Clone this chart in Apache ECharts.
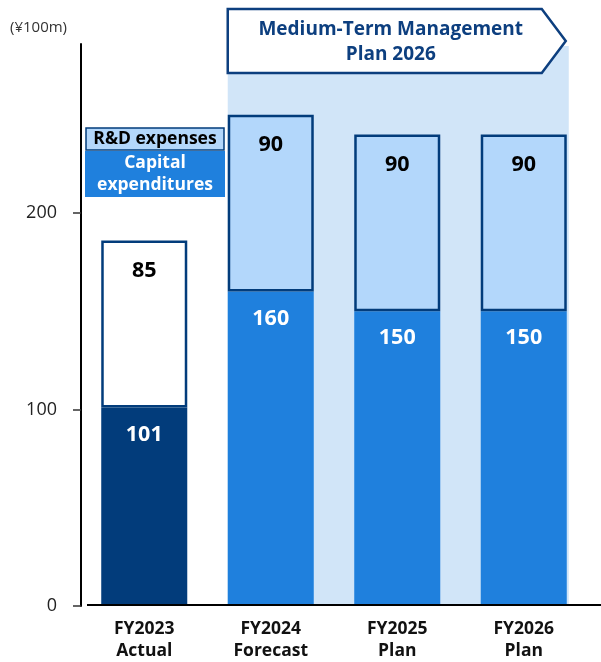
<!DOCTYPE html>
<html>
<head>
<meta charset="utf-8">
<script src="https://cdn.jsdelivr.net/npm/echarts@6/dist/echarts.min.js"></script>
<style>
  html, body { margin: 0; padding: 0; background: #fff; }
  #chart { width: 601px; height: 662px; }
</style>
</head>
<body>
<div id="chart"></div>
<script>
// Capex and R&D plan, unit: ¥100m
const categories = ['FY2023\nActual', 'FY2024\nForecast', 'FY2025\nPlan', 'FY2026\nPlan'];
const capitalExpenditures = [101, 160, 150, 150];
const rdExpenses = [85, 90, 90, 90];
const yTicks = [0, 100, 200];

const FONT = '"Open Sans", "Noto Sans", sans-serif';
const NAVY = '#023c7b';
const BLUE = '#1f80dd';
const LIGHT = '#b3d7fb';
const BAND = '#d1e5f8';

const chart = echarts.init(document.getElementById('chart'), null, { renderer: 'canvas' });

const barWidthRatio = 0.68;

const option = {
  animation: false,
  textStyle: { fontFamily: FONT },
  grid: { left: 81, right: 14, top: 44, bottom: 53, containLabel: false },
  xAxis: {
    type: 'category',
    data: categories,
    axisLine: { show: false },
    axisTick: { show: false },
    axisLabel: {
      color: '#111', fontSize: 17.5, fontWeight: 'bold', fontFamily: FONT,
      lineHeight: 22, margin: 12, interval: 0
    }
  },
  yAxis: {
    type: 'value',
    min: 0, max: 286, interval: 100,
    splitLine: { show: false },
    axisLine: { show: true, lineStyle: { color: '#000', width: 2 } },
    axisTick: { show: true, length: 8, customValues: yTicks, lineStyle: { color: '#333', width: 1.5 } },
    axisLabel: { customValues: yTicks, color: '#222', fontSize: 18, margin: 24, fontFamily: FONT }
  },
  series: [
    {
      name: 'Capital expenditures',
      type: 'bar',
      stack: 'total',
      barWidth: (barWidthRatio * 100) + '%',
      z: 3,
      data: capitalExpenditures.map((v, i) => ({
        value: v,
        itemStyle: { color: i === 0 ? NAVY : BLUE }
      })),
      label: {
        show: true, position: 'insideTop', distance: 16,
        color: '#fff', fontSize: 21.5, fontWeight: 'bold', fontFamily: FONT
      }
    },
    {
      name: 'R&D expenses',
      type: 'bar',
      stack: 'total',
      barWidth: (barWidthRatio * 100) + '%',
      z: 3,
      data: rdExpenses.map((v, i) => ({
        value: v,
        itemStyle: { color: i === 0 ? '#fff' : LIGHT, borderColor: NAVY, borderWidth: 2.5 }
      })),
      label: {
        show: true, position: 'insideTop', distance: 19,
        color: '#000', fontSize: 21.5, fontWeight: 'bold', fontFamily: FONT
      }
    }
  ]
};

chart.setOption(option);

// Plan-period band, banner, legend and baseline placed from the axis scales
const bandW = (601 - 81 - 14) / categories.length;
const half = bandW * barWidthRatio / 2;
const xStart = chart.convertToPixel({ xAxisIndex: 0 }, categories[1]) - half;
const xEnd = chart.convertToPixel({ xAxisIndex: 0 }, categories[3]) + half + 2;
const yZero = chart.convertToPixel({ yAxisIndex: 0 }, 0);
const yTop = chart.convertToPixel({ yAxisIndex: 0 }, 285);

const bannerTop = 9, bannerBottom = 73, tipX = xEnd - 3, bodyRight = tipX - 24;
const bannerMid = (bannerTop + bannerBottom) / 2;

chart.setOption({
  graphic: [
    {
      type: 'rect', z: -10, silent: true,
      shape: { x: xStart, y: yTop, width: xEnd - xStart, height: yZero - yTop },
      style: { fill: BAND }
    },
    {
      type: 'line', z: 10, silent: true,
      shape: { x1: 87, y1: yZero - 1, x2: 601, y2: yZero - 1 },
      style: { stroke: '#000', lineWidth: 2 }
    },
    {
      type: 'polygon', z: 20, silent: true,
      shape: {
        points: [
          [xStart, bannerTop], [bodyRight, bannerTop], [tipX, bannerMid],
          [bodyRight, bannerBottom], [xStart, bannerBottom]
        ]
      },
      style: { fill: '#fff', stroke: '#0d3f7f', lineWidth: 2.5 }
    },
    {
      type: 'text', z: 21, silent: true,
      x: (xStart + bodyRight) / 2 + 6, y: bannerMid + 1,
      style: {
        text: 'Medium-Term Management\nPlan 2026',
        fill: '#0d3f7f', font: 'bold 19px ' + FONT,
        align: 'center', verticalAlign: 'middle', lineHeight: 25
      }
    },
    {
      type: 'text', z: 21, silent: true,
      x: 10, y: 28,
      style: { text: '(¥100m)', fill: '#333', font: '15px ' + FONT, align: 'left', verticalAlign: 'middle' }
    },
    {
      type: 'rect', z: 21, silent: true,
      shape: { x: 86, y: 128, width: 138, height: 22 },
      style: { fill: LIGHT, stroke: NAVY, lineWidth: 1.5 }
    },
    {
      type: 'text', z: 22, silent: true,
      x: 155, y: 139.5,
      style: { text: 'R&D expenses', fill: '#000', font: 'bold 17.5px ' + FONT, align: 'center', verticalAlign: 'middle' }
    },
    {
      type: 'rect', z: 21, silent: true,
      shape: { x: 85, y: 151, width: 140, height: 46 },
      style: { fill: BLUE }
    },
    {
      type: 'text', z: 22, silent: true,
      x: 155, y: 174,
      style: {
        text: 'Capital\nexpenditures', fill: '#fff', font: 'bold 17.5px ' + FONT,
        align: 'center', verticalAlign: 'middle', lineHeight: 22
      }
    }
  ]
});
</script>
</body>
</html>
